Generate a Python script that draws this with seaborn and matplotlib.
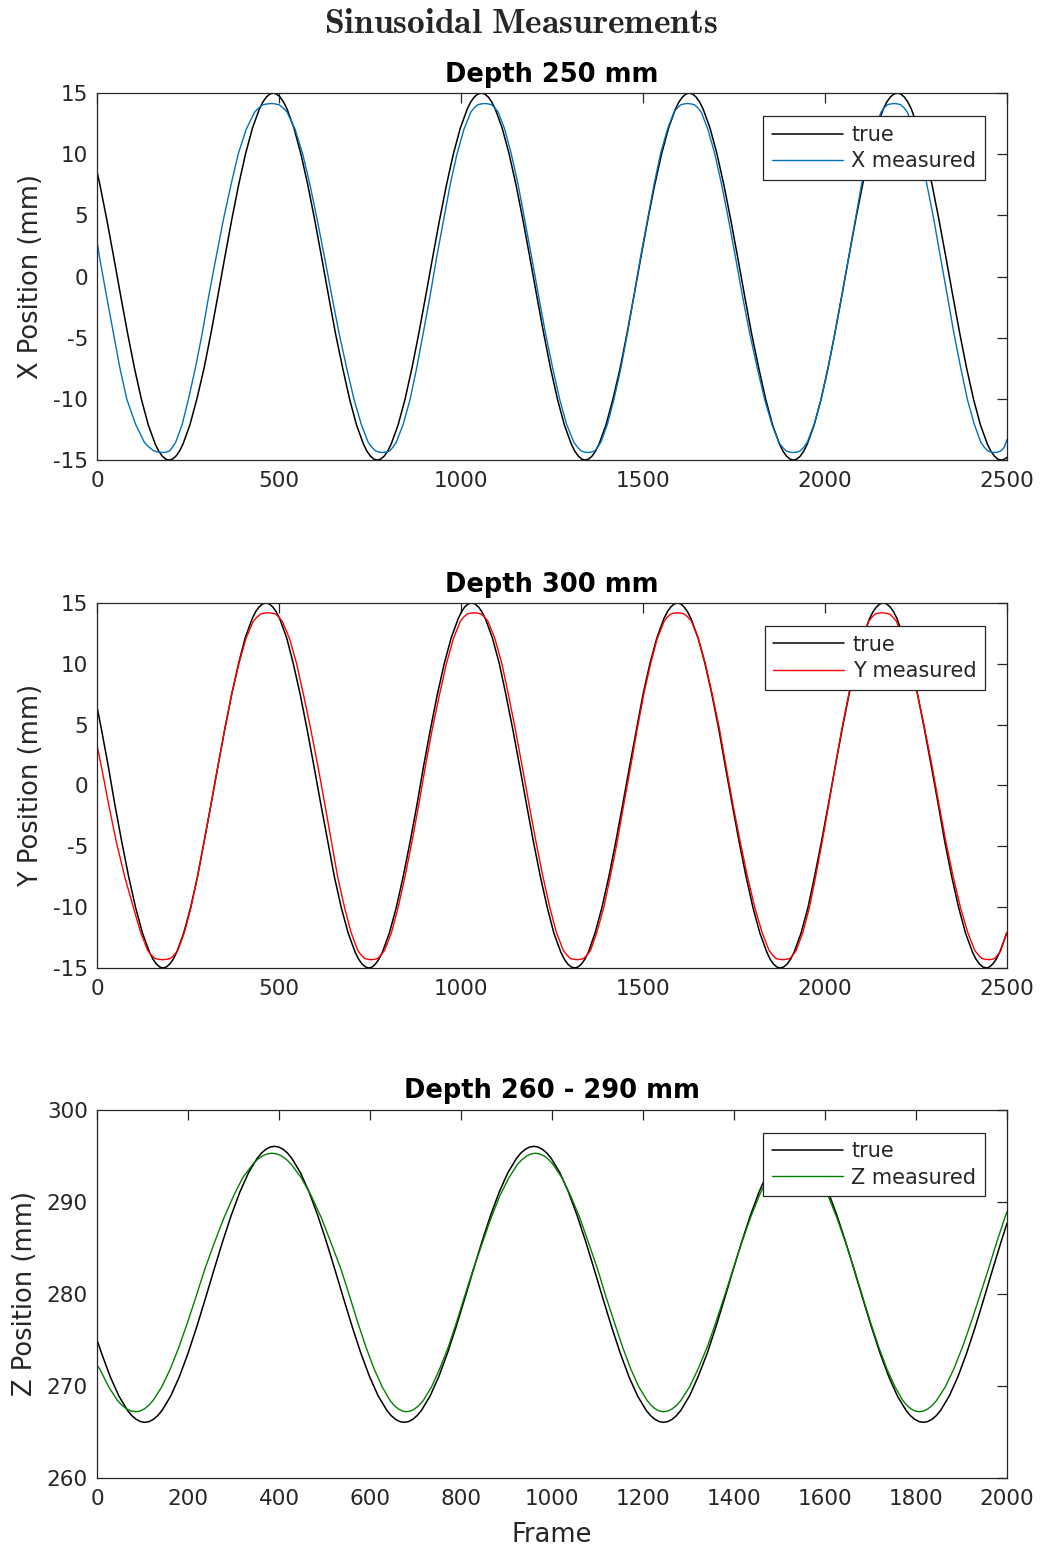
import pandas as pd
import matplotlib
matplotlib.use("Agg")
import matplotlib.pyplot as plt
import seaborn as sns

# values (frame numbers and positions in mm)

# ---- panel 1 : X, depth 250 mm
x_true_frame = [0, 8, 27, 46, 65, 84, 103, 122, 141, 160, 179, 198, 217, 236, 255, 274, 294, 313, 332, 351,
                370, 389, 408, 427, 446, 465, 484, 503, 522, 541, 560, 579, 598, 617, 636, 655, 675, 694, 713, 732,
                751, 770, 789, 808, 827, 846, 865, 884, 903, 922, 941, 960, 979, 998, 1017, 1036, 1056, 1075, 1094, 1113,
                1132, 1151, 1170, 1189, 1208, 1227, 1246, 1265, 1284, 1303, 1322, 1341, 1360, 1379, 1398, 1417, 1437, 1456, 1475, 1494,
                1513, 1532, 1551, 1570, 1589, 1608, 1627, 1646, 1665, 1684, 1703, 1722, 1741, 1760, 1779, 1798, 1818, 1837, 1856, 1875,
                1894, 1913, 1932, 1951, 1970, 1989, 2008, 2027, 2046, 2065, 2084, 2103, 2122, 2141, 2160, 2179, 2199, 2218, 2237, 2256,
                2275, 2294, 2313, 2332, 2351, 2370, 2389, 2408, 2427, 2446, 2465, 2484, 2500]
x_true_pos = [8.58,
              7.50, 4.64, 1.57, -1.57, -4.64, -7.50, -10.04, -12.14, -13.70, -14.67, -15.00, -14.67, -13.70, -12.14, -10.04,
              -7.50, -4.64, -1.57, 1.57, 4.64, 7.50, 10.04, 12.14, 13.70, 14.67, 15.00, 14.67, 13.70, 12.14, 10.04,
              7.50, 4.64, 1.57, -1.57, -4.64, -7.50, -10.04, -12.14, -13.70, -14.67, -15.00, -14.67, -13.70, -12.14, -10.04,
              -7.50, -4.64, -1.57, 1.57, 4.64, 7.50, 10.04, 12.14, 13.70, 14.67, 15.00, 14.67, 13.70, 12.14, 10.04,
              7.50, 4.64, 1.57, -1.57, -4.64, -7.50, -10.04, -12.14, -13.70, -14.67, -15.00, -14.67, -13.70, -12.14, -10.04,
              -7.50, -4.64, -1.57, 1.57, 4.64, 7.50, 10.04, 12.14, 13.70, 14.67, 15.00, 14.67, 13.70, 12.14, 10.04,
              7.50, 4.64, 1.57, -1.57, -4.64, -7.50, -10.04, -12.14, -13.70, -14.67, -15.00, -14.67, -13.70, -12.14, -10.04,
              -7.50, -4.64, -1.57, 1.57, 4.64, 7.50, 10.04, 12.14, 13.70, 14.67, 15.00, 14.67, 13.70, 12.14, 10.04,
              7.50, 4.64, 1.57, -1.57, -4.64, -7.50, -10.04, -12.14, -13.70, -14.67, -15.00,
              -14.77]
# extra readings around the turning points
x_true_extra_frame = [169.5, 188.5, 207.5, 226.5, 455.5, 474.5, 493.5, 512.5, 741.5, 760.5, 779.5, 798.5,
                      1026.5, 1046, 1065.5, 1084.5, 1312.5, 1331.5, 1350.5, 1369.5, 1598.5, 1617.5, 1636.5, 1655.5,
                      1884.5, 1903.5, 1922.5, 1941.5, 2169.5, 2189, 2208.5, 2227.5, 2455.5, 2474.5, 2493.5]
x_true_extra_pos = [-14.27, -14.92, -14.92, -14.27, 14.27, 14.92, 14.92, 14.27, -14.27, -14.92, -14.92, -14.27,
                    14.27, 14.92, 14.92, 14.27, -14.27, -14.92, -14.92, -14.27, 14.27, 14.92, 14.92, 14.27,
                    -14.27, -14.92, -14.92, -14.27, 14.27, 14.92, 14.92, 14.27, -14.27, -14.92, -14.92]

x_meas_frame = [0, 7, 26, 45, 63, 82, 106, 130, 156, 182, 199, 216, 234, 251, 270, 289, 307, 327, 347, 368,
                388, 410, 433, 456, 479, 500, 522, 544, 565, 585, 605, 625, 645, 665, 686, 706, 726, 745, 765, 785,
                804, 822, 841, 860, 878, 896, 915, 933, 952, 970, 989, 1008, 1027, 1046, 1066, 1084, 1102, 1120, 1138, 1157,
                1175, 1194, 1213, 1232, 1252, 1271, 1290, 1310, 1330, 1349, 1367, 1384, 1402, 1420, 1439, 1457, 1475, 1493, 1512, 1530,
                1548, 1567, 1585, 1604, 1622, 1641, 1660, 1678, 1697, 1716, 1735, 1754, 1773, 1793, 1814, 1834, 1854, 1873, 1893, 1913,
                1932, 1951, 1970, 1989, 2008, 2027, 2046, 2065, 2083, 2100, 2118, 2136, 2154, 2171, 2190, 2208, 2226, 2244, 2262, 2280,
                2299, 2317, 2336, 2354, 2373, 2391, 2410, 2428, 2447, 2466, 2483, 2500]
x_meas_pos = [2.9,
              1.57, -1.57, -4.64, -7.50, -10.04, -12.08, -13.55, -14.25, -14.38, -14.25, -13.55, -12.08, -10.04, -7.50, -4.64,
              -1.57, 1.57, 4.64, 7.50, 10.04, 12.05, 13.45, 14.05, 14.15, 14.05, 13.45, 12.05, 10.04, 7.50, 4.64,
              1.57, -1.57, -4.64, -7.50, -10.04, -12.08, -13.55, -14.25, -14.38, -14.25, -13.55, -12.08, -10.04, -7.50, -4.64,
              -1.57, 1.57, 4.64, 7.50, 10.04, 12.05, 13.45, 14.05, 14.15, 14.05, 13.45, 12.05, 10.04, 7.50, 4.64,
              1.57, -1.57, -4.64, -7.50, -10.04, -12.08, -13.55, -14.25, -14.38, -14.25, -13.55, -12.08, -10.04, -7.50, -4.64,
              -1.57, 1.57, 4.64, 7.50, 10.04, 12.05, 13.45, 14.05, 14.15, 14.05, 13.45, 12.05, 10.04, 7.50, 4.64,
              1.57, -1.57, -4.64, -7.50, -10.04, -12.08, -13.55, -14.25, -14.38, -14.25, -13.55, -12.08, -10.04, -7.50, -4.64,
              -1.57, 1.57, 4.64, 7.50, 10.04, 12.05, 13.45, 14.05, 14.15, 14.05, 13.45, 12.05, 10.04, 7.50, 4.64,
              1.57, -1.57, -4.64, -7.50, -10.04, -12.08, -13.55, -14.25, -14.38, -14.25,
              -13.3]
x_meas_extra_frame = [143, 169, 190.5, 207.5, 444.5, 467.5, 489.5, 511, 755, 775, 794.5, 813,
                      1036.5, 1056, 1075, 1093, 1320, 1339.5, 1358, 1375.5, 1594.5, 1613, 1631.5, 1650.5,
                      1883, 1903, 1922.5, 1941.5, 2162.5, 2180.5, 2199, 2217, 2437.5, 2456.5, 2474.5, 2492.5]
x_meas_extra_pos = [-13.95, -14.35, -14.35, -13.95, 13.80, 14.12, 14.12, 13.80, -13.95, -14.35, -14.35, -13.95,
                    13.80, 14.12, 14.12, 13.80, -13.95, -14.35, -14.35, -13.95, 13.80, 14.12, 14.12, 13.80,
                    -13.95, -14.35, -14.35, -13.95, 13.80, 14.12, 14.12, 13.80, -13.95, -14.35, -14.35, -13.95]

# ---- panel 2 : Y, depth 300 mm
y_true_frame = [0, 12, 31, 49, 68, 87, 106, 125, 144, 163, 181, 200, 219, 238, 257, 276, 294, 313, 332, 351,
                370, 389, 407, 426, 445, 464, 483, 502, 521, 539, 558, 577, 596, 615, 634, 652, 671, 690, 709, 728,
                747, 765, 784, 803, 822, 841, 860, 879, 897, 916, 935, 954, 973, 992, 1010, 1029, 1048, 1067, 1086, 1105,
                1123, 1142, 1161, 1180, 1199, 1218, 1237, 1255, 1274, 1293, 1312, 1331, 1350, 1368, 1387, 1406, 1425, 1444, 1463, 1482,
                1500, 1519, 1538, 1557, 1576, 1595, 1613, 1632, 1651, 1670, 1689, 1708, 1726, 1745, 1764, 1783, 1802, 1821, 1840, 1858,
                1877, 1896, 1915, 1934, 1953, 1971, 1990, 2009, 2028, 2047, 2066, 2084, 2103, 2122, 2141, 2160, 2179, 2198, 2216, 2235,
                2254, 2273, 2292, 2311, 2329, 2348, 2367, 2386, 2405, 2424, 2443, 2461, 2480, 2499]
y_true_pos = [6.46,
              4.64, 1.57, -1.57, -4.64, -7.50, -10.04, -12.14, -13.70, -14.67, -15.00, -14.67, -13.70, -12.14, -10.04, -7.50,
              -4.64, -1.57, 1.57, 4.64, 7.50, 10.04, 12.14, 13.70, 14.67, 15.00, 14.67, 13.70, 12.14, 10.04, 7.50,
              4.64, 1.57, -1.57, -4.64, -7.50, -10.04, -12.14, -13.70, -14.67, -15.00, -14.67, -13.70, -12.14, -10.04, -7.50,
              -4.64, -1.57, 1.57, 4.64, 7.50, 10.04, 12.14, 13.70, 14.67, 15.00, 14.67, 13.70, 12.14, 10.04, 7.50,
              4.64, 1.57, -1.57, -4.64, -7.50, -10.04, -12.14, -13.70, -14.67, -15.00, -14.67, -13.70, -12.14, -10.04, -7.50,
              -4.64, -1.57, 1.57, 4.64, 7.50, 10.04, 12.14, 13.70, 14.67, 15.00, 14.67, 13.70, 12.14, 10.04, 7.50,
              4.64, 1.57, -1.57, -4.64, -7.50, -10.04, -12.14, -13.70, -14.67, -15.00, -14.67, -13.70, -12.14, -10.04, -7.50,
              -4.64, -1.57, 1.57, 4.64, 7.50, 10.04, 12.14, 13.70, 14.67, 15.00, 14.67, 13.70, 12.14, 10.04, 7.50,
              4.64, 1.57, -1.57, -4.64, -7.50, -10.04, -12.14, -13.70, -14.67, -15.00, -14.67, -13.70, -12.14]
y_true_extra_frame = [153.5, 172, 190.5, 209.5, 435.5, 454.5, 473.5, 492.5, 718.5, 737.5, 756, 774.5,
                      1001, 1019.5, 1038.5, 1057.5, 1283.5, 1302.5, 1321.5, 1340.5, 1566.5, 1585.5, 1604, 1622.5,
                      1849, 1867.5, 1886.5, 1905.5, 2131.5, 2150.5, 2169.5, 2188.5, 2414.5, 2433.5, 2452, 2470.5]
y_true_extra_pos = [-14.27, -14.92, -14.92, -14.27, 14.27, 14.92, 14.92, 14.27, -14.27, -14.92, -14.92, -14.27,
                    14.27, 14.92, 14.92, 14.27, -14.27, -14.92, -14.92, -14.27, 14.27, 14.92, 14.92, 14.27,
                    -14.27, -14.92, -14.92, -14.27, 14.27, 14.92, 14.92, 14.27, -14.27, -14.92, -14.92, -14.27]

y_meas_frame = [0, 12, 32, 53, 76, 100, 120, 139, 159, 180, 202, 222, 240, 258, 276, 294, 313, 332, 351, 370,
                390, 409, 429, 450, 470, 490, 509, 529, 548, 567, 587, 607, 626, 644, 661, 680, 698, 716, 735, 753,
                771, 790, 809, 827, 846, 865, 884, 902, 921, 941, 960, 979, 998, 1017, 1036, 1055, 1074, 1093, 1112, 1130,
                1149, 1168, 1187, 1206, 1225, 1244, 1262, 1281, 1300, 1319, 1337, 1356, 1373, 1392, 1410, 1429, 1447, 1466, 1484, 1502,
                1521, 1539, 1558, 1576, 1595, 1613, 1633, 1652, 1671, 1690, 1710, 1728, 1747, 1767, 1787, 1807, 1827, 1846, 1865, 1885,
                1903, 1921, 1939, 1957, 1974, 1992, 2010, 2028, 2046, 2065, 2083, 2101, 2120, 2138, 2157, 2177, 2196, 2215, 2235, 2254,
                2274, 2294, 2313, 2332, 2352, 2372, 2392, 2411, 2431, 2451, 2466, 2483, 2499]
y_meas_pos = [3.3,
              1.57, -1.57, -4.64, -7.50, -10.04, -12.08, -13.55, -14.22, -14.32, -14.22, -13.55, -12.08, -10.04, -7.50, -4.64,
              -1.57, 1.57, 4.64, 7.50, 10.04, 12.07, 13.50, 14.10, 14.20, 14.10, 13.50, 12.07, 10.04, 7.50, 4.64,
              1.57, -1.57, -4.64, -7.50, -10.04, -12.08, -13.55, -14.22, -14.32, -14.22, -13.55, -12.08, -10.04, -7.50, -4.64,
              -1.57, 1.57, 4.64, 7.50, 10.04, 12.07, 13.50, 14.10, 14.20, 14.10, 13.50, 12.07, 10.04, 7.50, 4.64,
              1.57, -1.57, -4.64, -7.50, -10.04, -12.08, -13.55, -14.22, -14.32, -14.22, -13.55, -12.08, -10.04, -7.50, -4.64,
              -1.57, 1.57, 4.64, 7.50, 10.04, 12.07, 13.50, 14.10, 14.20, 14.10, 13.50, 12.07, 10.04, 7.50, 4.64,
              1.57, -1.57, -4.64, -7.50, -10.04, -12.08, -13.55, -14.22, -14.32, -14.22, -13.55, -12.08, -10.04, -7.50, -4.64,
              -1.57, 1.57, 4.64, 7.50, 10.04, 12.07, 13.50, 14.10, 14.20, 14.10, 13.50, 12.07, 10.04, 7.50, 4.64,
              1.57, -1.57, -4.64, -7.50, -10.04, -12.08, -13.55, -14.22, -14.32, -14.22, -13.55, -12.08]
y_meas_extra_frame = [149, 169.5, 191, 212, 439.5, 460, 480, 499.5, 725.5, 744, 762, 780.5,
                      1007.5, 1026.5, 1045.5, 1064.5, 1290.5, 1309.5, 1328, 1346.5, 1567, 1585.5, 1604, 1623,
                      1855.5, 1875, 1894, 1912, 2129, 2147.5, 2167, 2186.5, 2421, 2441, 2458.5, 2474.5]
y_meas_extra_pos = [-13.93, -14.29, -14.29, -13.93, 13.85, 14.17, 14.17, 13.85, -13.93, -14.29, -14.29, -13.93,
                    13.85, 14.17, 14.17, 13.85, -13.93, -14.29, -14.29, -13.93, 13.85, 14.17, 14.17, 13.85,
                    -13.93, -14.29, -14.29, -13.93, 13.85, 14.17, 14.17, 13.85, -13.93, -14.29, -14.29, -13.93]

# ---- panel 3 : Z, depth 260 - 290 mm
z_true_frame = [0, 10, 29, 48, 67, 86, 105, 124, 143, 162, 181, 200, 219, 238, 257, 276, 295, 314, 333, 352,
                371, 390, 409, 428, 447, 466, 485, 504, 523, 542, 561, 580, 599, 618, 637, 656, 675, 694, 713, 732,
                751, 770, 789, 808, 827, 846, 865, 884, 903, 922, 941, 960, 979, 998, 1017, 1036, 1055, 1074, 1093, 1112,
                1131, 1150, 1169, 1188, 1207, 1226, 1245, 1264, 1283, 1302, 1321, 1341, 1360, 1379, 1398, 1417, 1436, 1455, 1474, 1493,
                1512, 1531, 1550, 1569, 1588, 1607, 1626, 1645, 1664, 1683, 1702, 1721, 1740, 1759, 1778, 1797, 1816, 1835, 1854, 1873,
                1892, 1911, 1930, 1949, 1968, 1987, 2000]
z_true_pos = [274.95,
              273.50, 270.96, 268.86, 267.30, 266.33, 266.00, 266.33, 267.30, 268.86, 270.96, 273.50, 276.36, 279.43, 282.57, 285.64,
              288.50, 291.04, 293.14, 294.70, 295.67, 296.00, 295.67, 294.70, 293.14, 291.04, 288.50, 285.64, 282.57, 279.43, 276.36,
              273.50, 270.96, 268.86, 267.30, 266.33, 266.00, 266.33, 267.30, 268.86, 270.96, 273.50, 276.36, 279.43, 282.57, 285.64,
              288.50, 291.04, 293.14, 294.70, 295.67, 296.00, 295.67, 294.70, 293.14, 291.04, 288.50, 285.64, 282.57, 279.43, 276.36,
              273.50, 270.96, 268.86, 267.30, 266.33, 266.00, 266.33, 267.30, 268.86, 270.96, 273.50, 276.36, 279.43, 282.57, 285.64,
              288.50, 291.04, 293.14, 294.70, 295.67, 296.00, 295.67, 294.70, 293.14, 291.04, 288.50, 285.64, 282.57, 279.43, 276.36,
              273.50, 270.96, 268.86, 267.30, 266.33, 266.00, 266.33, 267.30, 268.86, 270.96, 273.50, 276.36, 279.43, 282.57, 285.64,
              287.65]
z_true_extra_frame = [76.5, 95.5, 114.5, 133.5, 361.5, 380.5, 399.5, 418.5, 646.5, 665.5, 684.5, 703.5,
                      931.5, 950.5, 969.5, 988.5, 1216.5, 1235.5, 1254.5, 1273.5, 1502.5, 1521.5, 1540.5, 1559.5,
                      1787.5, 1806.5, 1825.5, 1844.5]
z_true_extra_pos = [266.73, 266.08, 266.08, 266.73, 295.27, 295.92, 295.92, 295.27, 266.73, 266.08, 266.08, 266.73,
                    295.27, 295.92, 295.92, 295.27, 266.73, 266.08, 266.08, 266.73, 295.27, 295.92, 295.92, 295.27,
                    266.73, 266.08, 266.08, 266.73]

z_meas_frame = [0, 6, 26, 45, 65, 85, 104, 123, 142, 161, 180, 199, 218, 237, 258, 279, 300, 320, 342, 363,
                384, 406, 427, 449, 471, 493, 514, 536, 555, 573, 591, 609, 627, 644, 662, 680, 698, 717, 735, 753,
                772, 790, 808, 827, 847, 866, 885, 905, 924, 944, 963, 983, 1002, 1022, 1041, 1061, 1080, 1100, 1118, 1137,
                1155, 1173, 1191, 1209, 1227, 1245, 1264, 1283, 1302, 1321, 1341, 1360, 1379, 1398, 1417, 1436, 1455, 1474, 1493, 1512,
                1531, 1550, 1569, 1588, 1607, 1626, 1645, 1664, 1682, 1700, 1718, 1736, 1754, 1771, 1789, 1807, 1826, 1845, 1864, 1883,
                1902, 1921, 1940, 1959, 1977, 1995, 2000]
z_meas_pos = [272.2,
              271.80, 269.83, 268.37, 267.46, 267.15, 267.46, 268.37, 269.83, 271.80, 274.18, 276.86, 279.73, 282.67, 285.54, 288.23,
              290.60, 292.57, 294.04, 294.94, 295.25, 294.94, 294.04, 292.57, 290.60, 288.23, 285.54, 282.67, 279.73, 276.86, 274.18,
              271.80, 269.83, 268.37, 267.46, 267.15, 267.46, 268.37, 269.83, 271.80, 274.18, 276.86, 279.73, 282.67, 285.54, 288.23,
              290.60, 292.57, 294.04, 294.94, 295.25, 294.94, 294.04, 292.57, 290.60, 288.23, 285.54, 282.67, 279.73, 276.86, 274.18,
              271.80, 269.83, 268.37, 267.46, 267.15, 267.46, 268.37, 269.83, 271.80, 274.18, 276.86, 279.73, 282.67, 285.54, 288.23,
              290.60, 292.57, 294.04, 294.94, 295.25, 294.94, 294.04, 292.57, 290.60, 288.23, 285.54, 282.67, 279.73, 276.86, 274.18,
              271.80, 269.83, 268.37, 267.46, 267.15, 267.46, 268.37, 269.83, 271.80, 274.18, 276.86, 279.73, 282.67, 285.54, 288.23,
              288.9]
z_meas_extra_frame = [55, 75, 94.5, 113.5, 352.5, 373.5, 395, 416.5, 653, 671, 689, 707.5,
                      934, 953.5, 973, 992.5, 1218, 1236, 1254.5, 1273.5, 1502.5, 1521.5, 1540.5, 1559.5,
                      1780, 1798, 1816.5, 1835.5]
z_meas_extra_pos = [267.84, 267.23, 267.23, 267.84, 294.56, 295.17, 295.17, 294.56, 267.84, 267.23, 267.23, 267.84,
                    294.56, 295.17, 295.17, 294.56, 267.84, 267.23, 267.23, 267.84, 294.56, 295.17, 295.17, 294.56,
                    267.84, 267.23, 267.23, 267.84]

titles = ["Depth 250 mm", "Depth 300 mm", "Depth 260 - 290 mm"]
ylabels = ["X Position (mm)", "Y Position (mm)", "Z Position (mm)"]
meas_labels = ["X measured", "Y measured", "Z measured"]
meas_colors = ["#0072BD", "#FF0000", "#008000"]

sns.set_style("white")
plt.rcParams["font.family"] = ["DejaVu Sans"]
plt.rcParams["axes.unicode_minus"] = False
plt.rcParams["mathtext.fontset"] = "cm"

AXC = "#262626"

fig = plt.figure(figsize=(10.41, 15.47), dpi=100)
rects = [[0.0932, 0.7026, 0.8742, 0.2372],
         [0.0932, 0.3743, 0.8742, 0.2359],
         [0.0932, 0.0449, 0.8742, 0.2379]]

series = [
    (x_true_frame + x_true_extra_frame, x_true_pos + x_true_extra_pos,
     x_meas_frame + x_meas_extra_frame, x_meas_pos + x_meas_extra_pos),
    (y_true_frame + y_true_extra_frame, y_true_pos + y_true_extra_pos,
     y_meas_frame + y_meas_extra_frame, y_meas_pos + y_meas_extra_pos),
    (z_true_frame + z_true_extra_frame, z_true_pos + z_true_extra_pos,
     z_meas_frame + z_meas_extra_frame, z_meas_pos + z_meas_extra_pos),
]

for i, (tf, tp, mf, mp) in enumerate(series):
    ax = fig.add_axes(rects[i])
    df_true = pd.DataFrame({"Frame": tf, "Position": tp})
    df_meas = pd.DataFrame({"Frame": mf, "Position": mp})
    sns.lineplot(data=df_true, x="Frame", y="Position", color="black", lw=1.1,
                 label="true", estimator=None, sort=True, ax=ax)
    sns.lineplot(data=df_meas, x="Frame", y="Position", color=meas_colors[i], lw=1.0,
                 label=meas_labels[i], estimator=None, sort=True, ax=ax)

    if i < 2:
        ax.set_xlim(0, 2500)
        ax.set_ylim(-15, 15)
        ax.set_xticks(range(0, 2501, 500))
        ax.set_yticks(range(-15, 16, 5))
        ax.set_xlabel("")
        ax.yaxis.set_label_coords(-0.058, 0.5)
    else:
        ax.set_xlim(0, 2000)
        ax.set_ylim(260, 300)
        ax.set_xticks(range(0, 2001, 200))
        ax.set_yticks(range(260, 301, 10))
        ax.set_xlabel("Frame", fontsize=18.5, color=AXC)
        ax.xaxis.set_label_coords(0.5, -0.12)
        ax.yaxis.set_label_coords(-0.065, 0.5)

    ax.set_ylabel(ylabels[i], fontsize=18.5, color=AXC)
    ax.set_title(titles[i], fontsize=18.5, fontweight="bold", pad=8, color="black")

    ax.tick_params(direction="in", top=True, right=True, length=7, width=0.9,
                   colors=AXC, labelsize=15.5)
    ax.tick_params(axis="x", pad=8)
    ax.tick_params(axis="y", pad=6.5)
    for sp in ax.spines.values():
        sp.set_color(AXC)
        sp.set_linewidth(0.9)

    leg = ax.legend(loc="upper right", bbox_to_anchor=(0.9758, 0.9373), borderaxespad=0,
                    fancybox=False, edgecolor=AXC, framealpha=1, fontsize=15,
                    handlelength=3.4, handletextpad=0.4, borderpad=0.42, labelspacing=0.3)
    leg.get_frame().set_linewidth(0.9)
    for t in leg.get_texts():
        t.set_color(AXC)

fig.text(0.5, 1 - 23 / 1547, r"$\mathbf{Sinusoidal\ Measurements}$",
         ha="center", va="center", fontsize=25.5)

fig.savefig("out.png", dpi=100)
